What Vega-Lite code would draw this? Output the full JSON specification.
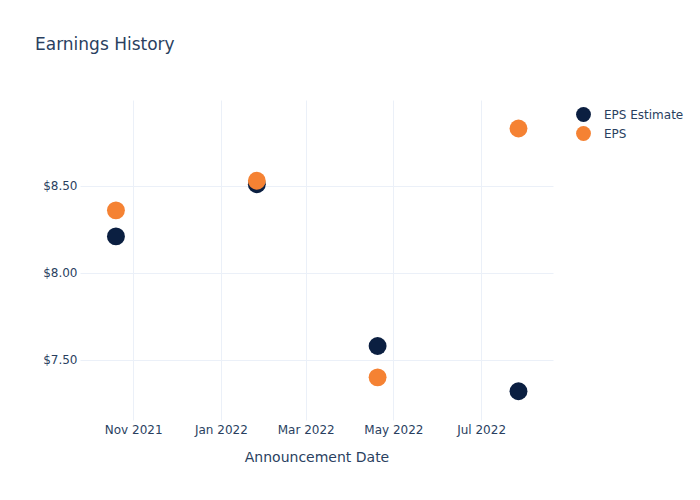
{
  "$schema": "https://vega.github.io/schema/vega-lite/v6.json",
  "width": 473,
  "height": 320,
  "autosize": {"type": "none"},
  "padding": {"left": 80, "top": 100, "right": 147, "bottom": 80},
  "background": "white",
  "title": {
    "text": "Earnings History",
    "anchor": "start",
    "frame": "group",
    "dx": -45,
    "offset": 46,
    "fontSize": 17,
    "fontWeight": "normal",
    "font": "DejaVu Sans",
    "color": "#2a3f5f"
  },
  "config": {
    "view": {"stroke": null},
    "font": "DejaVu Sans"
  },
  "data": {
    "values": [
      {"date": "2021-10-20", "series": "EPS Estimate", "value": 8.21},
      {"date": "2022-01-26", "series": "EPS Estimate", "value": 8.51},
      {"date": "2022-04-20", "series": "EPS Estimate", "value": 7.58},
      {"date": "2022-07-27", "series": "EPS Estimate", "value": 7.32},
      {"date": "2021-10-20", "series": "EPS", "value": 8.36},
      {"date": "2022-01-26", "series": "EPS", "value": 8.53},
      {"date": "2022-04-20", "series": "EPS", "value": 7.40},
      {"date": "2022-07-27", "series": "EPS", "value": 8.83}
    ]
  },
  "mark": {"type": "point", "filled": true, "opacity": 1, "size": 320},
  "encoding": {
    "x": {
      "field": "date",
      "type": "temporal",
      "title": "Announcement Date",
      "scale": {"domain": [{"year": 2021, "month": 9, "date": 25}, {"year": 2022, "month": 8, "date": 20}]},
      "axis": {
        "values": [
          {"year": 2021, "month": 11, "date": 1},
          {"year": 2022, "month": 1, "date": 1},
          {"year": 2022, "month": 3, "date": 1},
          {"year": 2022, "month": 5, "date": 1},
          {"year": 2022, "month": 7, "date": 1}
        ],
        "format": "%b %Y",
        "domain": false,
        "ticks": false,
        "grid": true,
        "gridColor": "#ebf0f8",
        "gridWidth": 1,
        "labelFontSize": 12,
        "labelColor": "#2a3f5f",
        "labelPadding": 4,
        "titleFontSize": 14,
        "titleFontWeight": "normal",
        "titleColor": "#2a3f5f",
        "titlePadding": 15
      }
    },
    "y": {
      "field": "value",
      "type": "quantitative",
      "title": null,
      "scale": {"domain": [7.155, 8.994], "nice": false, "zero": false},
      "axis": {
        "values": [7.5, 8.0, 8.5],
        "format": "$.2f",
        "domain": false,
        "ticks": false,
        "grid": true,
        "gridColor": "#ebf0f8",
        "gridWidth": 1,
        "labelFontSize": 12,
        "labelColor": "#2a3f5f",
        "labelPadding": 3
      }
    },
    "color": {
      "field": "series",
      "type": "nominal",
      "scale": {"domain": ["EPS Estimate", "EPS"], "range": ["#0b1f41", "#f58233"]},
      "legend": {
        "title": null,
        "orient": "none",
        "legendX": 495,
        "legendY": 6,
        "padding": 0,
        "symbolType": "circle",
        "symbolSize": 220,
        "symbolOpacity": 1,
        "labelFontSize": 12,
        "labelColor": "#2a3f5f",
        "labelOffset": 12,
        "rowPadding": 3
      }
    },
    "order": {"field": "series", "sort": "descending"}
  }
}
